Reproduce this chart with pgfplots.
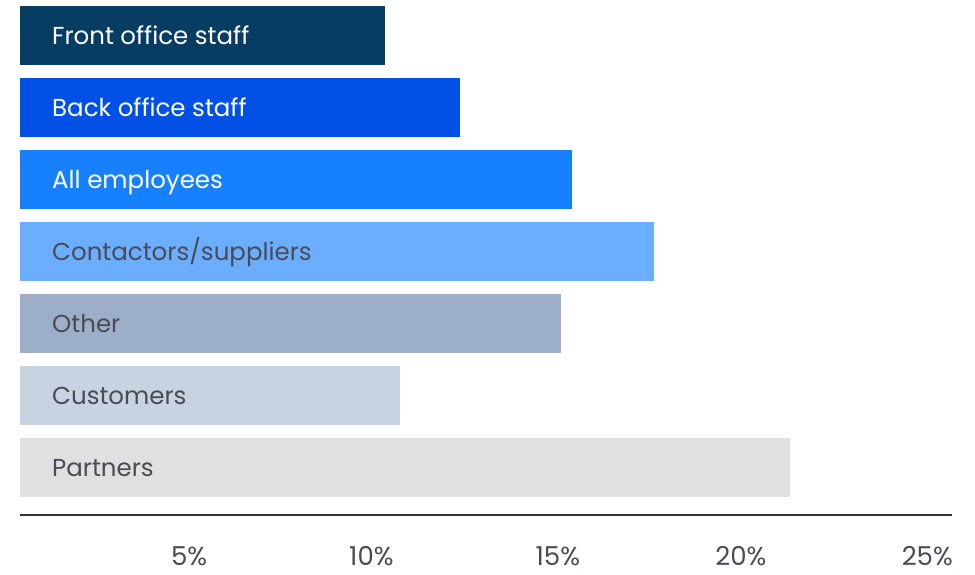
\documentclass[border=0pt]{standalone}
\usepackage{fontspec}
\setmainfont{Poppins}
\usepackage{pgfplots}
\pgfplotsset{compat=1.18}
\definecolor{cFront}{HTML}{083D63}
\definecolor{cBack}{HTML}{0050E6}
\definecolor{cAll}{HTML}{1780FF}
\definecolor{cCon}{HTML}{6BAEFF}
\definecolor{cOther}{HTML}{9CAEC8}
\definecolor{cCust}{HTML}{C8D3E2}
\definecolor{cPart}{HTML}{E0E0E0}
\definecolor{txt}{HTML}{4A4B55}
\begin{document}
\begin{tikzpicture}[x=1pt,y=1pt]
\path[use as bounding box] (0,0) rectangle (975,575);
\begin{axis}[
  at={(20pt,60pt)}, anchor=south west,
  scale only axis, width=932pt, height=515.5pt,
  xmin=0, xmax=25, ymin=-0.66, ymax=6.5,
  axis y line=none,
  axis x line*=bottom,
  x axis line style={draw=black!80, line width=1.5pt, -},
  xtick={5,10,15,20,25},
  xticklabel={\pgfmathprintnumber{\tick}\%},
  xtick style={draw=none},
  xticklabel style={anchor=base east, inner sep=0pt, yshift=-51pt, xshift=1pt, text=txt, font=\fontsize{26}{30}\selectfont},
  /pgf/number format/assume math mode=true,
  xbar, bar width=59pt, bar shift=0pt,
  clip=false,
]
\addplot[fill=cFront, draw=none] coordinates {(9.8,6)};
\addplot[fill=cBack, draw=none] coordinates {(11.8,5)};
\addplot[fill=cAll, draw=none] coordinates {(14.8,4)};
\addplot[fill=cCon, draw=none] coordinates {(17.0,3)};
\addplot[fill=cOther, draw=none] coordinates {(14.5,2)};
\addplot[fill=cCust, draw=none] coordinates {(10.2,1)};
\addplot[fill=cPart, draw=none] coordinates {(20.65,0)};
\end{axis}
\begin{axis}[
  at={(20pt,60pt)}, anchor=south west,
  scale only axis, width=932pt, height=515.5pt,
  xmin=0, xmax=25, ymin=-0.66, ymax=6.5,
  axis lines=none, clip=false,
  nodes near coords, point meta=explicit symbolic,
  nodes near coords style={anchor=base west, inner sep=0pt, yshift=-9.5pt, font=\fontsize{24.5}{29}\selectfont},
]
\addplot[draw=none, mark=none, nodes near coords style={text=white}] table[meta=label, row sep=\\] {
x y label\\
0.858 6 {Front office staff}\\
0.858 5 {Back office staff}\\
0.858 4 {All employees}\\
};
\addplot[draw=none, mark=none, nodes near coords style={text=txt}] table[meta=label, row sep=\\] {
x y label\\
0.858 3 {Contactors/suppliers}\\
0.858 2 {Other}\\
0.858 1 {Customers}\\
0.858 0 {Partners}\\
};
\end{axis}
\end{tikzpicture}
\end{document}
